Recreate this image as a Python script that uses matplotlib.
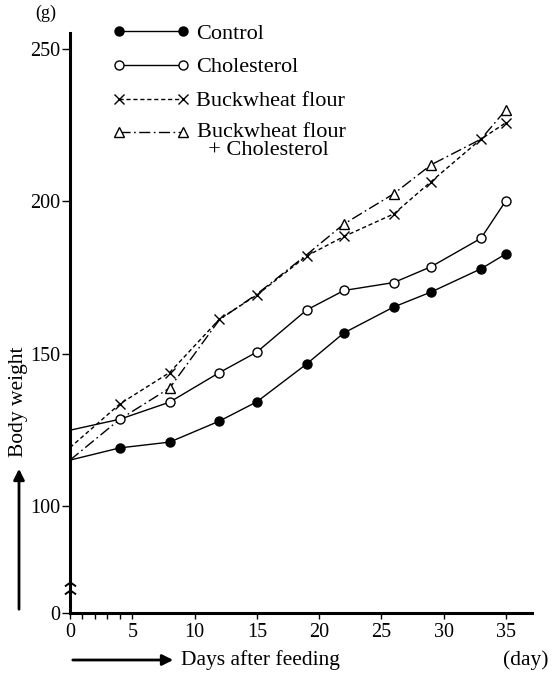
import numpy as np
import matplotlib
matplotlib.use("Agg")
import matplotlib.pyplot as plt
from matplotlib.path import Path
from matplotlib.lines import Line2D

# days after feeding and body weight (g)
days = [0, 4, 8, 12, 15, 19, 22, 26, 29, 33, 35]
control = [115.2, 119.2, 121.1, 128.0, 134.3, 146.7, 156.9, 165.4, 170.3, 177.9, 182.8]
cholesterol = [125.0, 128.6, 134.2, 143.9, 150.6, 164.4, 170.8, 173.4, 178.6, 187.9, 200.2]
buckwheat = [119.3, 133.6, 143.9, 161.4, 169.3, 182.1, 188.5, 195.9, 206.5, 220.4, 225.8]
bw_chol = [115.2, 128.6, 138.8, 161.2, 169.6, 182.5, 192.6, 202.5, 212.0, 220.4, 230.0]

labels = ["Control", "Cholesterol", "Buckwheat flour", "Buckwheat flour"]
x_ticks = [0, 5, 10, 15, 20, 25, 30, 35]
y_ticks = [0, 100, 150, 200, 250]

plt.rcParams['font.family'] = ['Liberation Serif', 'DejaVu Serif']

# broken y axis: 0-100 squeezed
k = 106.5 / 305


def fwd(y):
    y = np.asarray(y, float)
    return np.where(y <= 100, y * k, 100 * k + (y - 100))


def inv(y):
    y = np.asarray(y, float)
    return np.where(y <= 100 * k, y / k, y - 100 * k + 100)


fig = plt.figure(figsize=(5.53, 6.76), dpi=100)
ax = fig.add_axes([70 / 553, 63 / 676, 462 / 553, 580 / 676])
ax.set_yscale('function', functions=(fwd, inv))

lw = 1.0
ms = 6.5
pts = list(range(1, len(days)))
styles = [
    dict(ls='-', marker='o', mfc='black', mec='black'),
    dict(ls='-', marker='o', mfc='white', mec='black'),
    dict(ls=(0, (3, 2)), marker='x', mfc='black', mec='black'),
    dict(ls=(0, (8, 2.5, 1.2, 2.5)), marker='^', mfc='white', mec='black'),
]
series = [control, cholesterol, buckwheat, bw_chol]
marks = [pts, pts, pts, [2, 6, 7, 8, 10]]
order = [3, 2, 1, 0]
for i in order:
    st = styles[i]
    ax.plot(days, series[i], color='black', lw=lw, ms=ms, mew=1.0,
            markevery=marks[i], zorder=3 + (3 - i) * 0.1 + (0.5 if i == 2 else 0), **st)

ax.set_xlim(0, 37.1)
ax.set_ylim(0, 255.2)
for s in ['top', 'right']:
    ax.spines[s].set_visible(False)
for s in ['left', 'bottom']:
    ax.spines[s].set_linewidth(2.2)

ax.set_xticks(x_ticks)
ax.set_xticks([1, 2, 3, 4], minor=True)
ax.set_yticks(y_ticks)
ax.yaxis.set_minor_locator(plt.NullLocator())
ax.set_yticklabels([str(v) for v in y_ticks])
ax.tick_params(axis='x', which='both', direction='out', length=4, width=1,
               labelsize=14.5, pad=3)
ax.tick_params(axis='y', direction='out', length=6, width=1, labelsize=14.5, pad=1)

# axis break marks
chev = Path([(-1, -0.7), (0, 0), (1, -0.7)], [Path.MOVETO, Path.LINETO, Path.LINETO])
ax.plot([0, 0], [29.4, 21.6], ls='none', marker=chev, ms=8, mfc='none',
        mec='black', mew=1.4, clip_on=False, zorder=6)

# legend (last label written as a two-line text next to its key)
handles = []
for st in styles:
    handles.append(Line2D([], [], color='black', lw=lw, ms=ms, mew=1.0, **st))
ax.legend(handles, labels[:3] + [""], loc='upper left', bbox_to_anchor=(112 / 553, 1 - 23 / 676),
          bbox_transform=fig.transFigure, frameon=False, handlelength=3.5,
          handletextpad=0.3, labelspacing=0.6, borderpad=0, borderaxespad=0,
          numpoints=2, fontsize=16)
fig.text(197 / 553, 1 - 123 / 676, labels[3] + "\n  + Cholesterol", ha='left', va='top',
         fontsize=16, linespacing=0.9)

fig.text(46 / 553, 1 - 13 / 676, "(g)", ha='center', va='center', fontsize=13)
fig.text(19 / 553, 1 - 402 / 676, "Body weight", rotation=90, ha='center',
         va='center', fontsize=15.5)
ax.annotate('', xy=(19 / 553, 1 - 466 / 676), xytext=(19 / 553, 1 - 612 / 676),
            xycoords='figure fraction', textcoords='figure fraction',
            arrowprops=dict(arrowstyle='-|>', lw=2, color='black', mutation_scale=16))
ax.annotate('', xy=(176 / 553, 1 - 660 / 676), xytext=(70 / 553, 1 - 660 / 676),
            xycoords='figure fraction', textcoords='figure fraction',
            arrowprops=dict(arrowstyle='-|>', lw=2, color='black', mutation_scale=16))
fig.text(181 / 553, 1 - 660 / 676, "Days after feeding", ha='left', va='center', fontsize=15.5)
fig.text(549 / 553, 1 - 660 / 676, "(day)", ha='right', va='center', fontsize=15.5)

fig.savefig("out.png", dpi=100)
